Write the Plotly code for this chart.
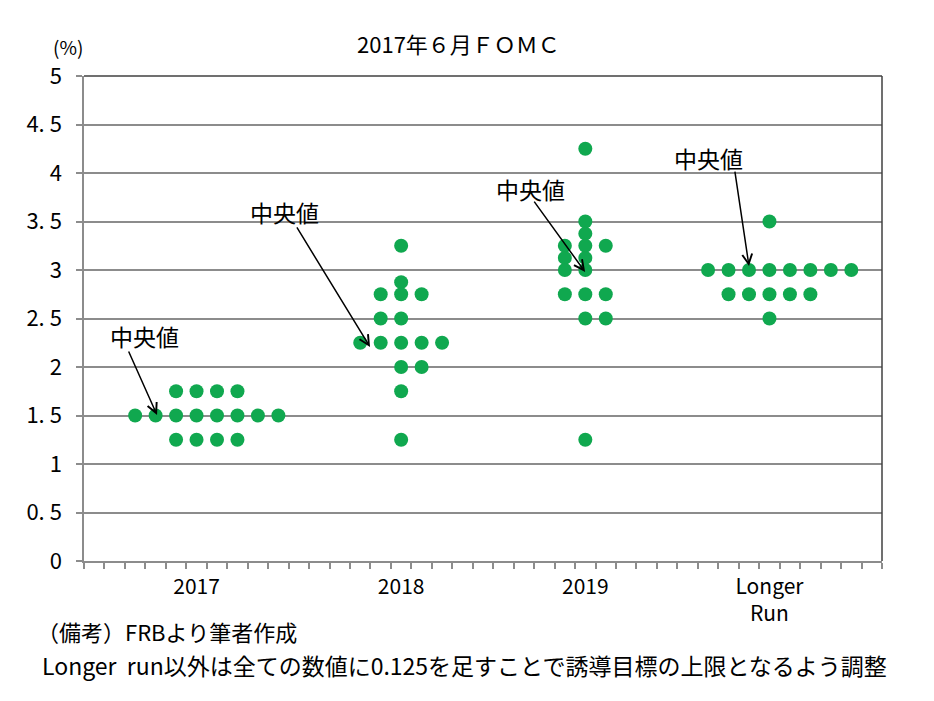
import plotly.graph_objects as go

# dot plot values (upper bound of target range, %), one list per period
groups = ["2017", "2018", "2019", "Longer<br>Run"]
group_pos = [6, 16, 25, 34]

rates_2017 = [1.75, 1.5, 1.25]
counts_2017 = [4, 8, 4]

rates_2018 = [3.25, 2.875, 2.75, 2.5, 2.25, 2.0, 1.75, 1.25]
counts_2018 = [1, 1, 3, 2, 5, 2, 1, 1]

rates_2019 = [4.25, 3.5, 3.375, 3.25, 3.125, 3.0, 2.75, 2.5, 1.25]
counts_2019 = [1, 1, 1, 3, 2, 2, 3, 2, 1]

rates_lr = [3.5, 3.0, 2.75, 2.5]
counts_lr = [1, 8, 5, 1]

# slot where each row of dots starts (category index on the x axis)
start_2017 = [5, 3, 5]
start_2018 = [16, 16, 15, 15, 14, 16, 16, 16]
start_2019 = [25, 25, 25, 24, 24, 24, 24, 25, 25]
start_lr = [34, 31, 32, 34]

y_ticks = [0, 0.5, 1, 1.5, 2, 2.5, 3, 3.5, 4, 4.5, 5]
y_text = ["0", "0. 5", "1", "1. 5", "2", "2. 5", "3", "3. 5", "4", "4. 5", "5"]

FONT = "Noto Sans CJK JP"
GREEN = "#10a84f"
GRID = "#8c8c8c"


def dots(rates, counts, starts):
    xs, ys = [], []
    for r, n, s in zip(rates, counts, starts):
        for i in range(n):
            xs.append(s + i)
            ys.append(r)
    return xs, ys


fig = go.Figure()
for rates, counts, starts in [
    (rates_2017, counts_2017, start_2017),
    (rates_2018, counts_2018, start_2018),
    (rates_2019, counts_2019, start_2019),
    (rates_lr, counts_lr, start_lr),
]:
    xs, ys = dots(rates, counts, starts)
    fig.add_trace(
        go.Scatter(
            x=xs,
            y=ys,
            mode="markers",
            marker=dict(size=14, color=GREEN, line=dict(width=0)),
            showlegend=False,
        )
    )

# median labels: (text x, text y, arrow tail x, tail y, head x, head y)
medians = [
    (3.47, 2.32, 2.65, 2.175, 4.07, 1.505),
    (10.32, 3.60, 10.86, 3.454, 14.48, 2.206),
    (22.3, 3.835, 22.45, 3.72, 24.99, 2.98),
    (31.0, 4.155, 32.3, 4.03, 33.0, 3.04),
]
for tx, ty, ax, ay, hx, hy in medians:
    fig.add_annotation(
        x=tx, y=ty, text="中央値", showarrow=False,
        font=dict(family=FONT, size=23, color="#000"),
    )
    fig.add_annotation(
        x=hx, y=hy, ax=ax, ay=ay, axref="x", ayref="y", text="",
        showarrow=True, arrowhead=5, arrowsize=1.3, arrowwidth=1.5,
        arrowcolor="#000",
    )

fig.add_annotation(
    xref="paper", yref="paper", x=0.4687, y=1.068, xanchor="center",
    yanchor="middle", text="2017年６月ＦＯＭＣ",
    showarrow=False, font=dict(family=FONT, size=22, color="#000"),
)
fig.add_annotation(
    xref="paper", yref="paper", x=-0.02, y=1.06, xanchor="center",
    yanchor="middle", text="(%)",
    showarrow=False, font=dict(family=FONT, size=19, color="#000"),
)
fig.add_annotation(
    xref="paper", yref="paper", x=-0.0614, y=-0.1443, xanchor="left",
    yanchor="middle", text="（備考）FRBより筆者作成",
    showarrow=False, font=dict(family=FONT, size=22, color="#000"),
)
fig.add_annotation(
    xref="paper", yref="paper", x=-0.0556, y=-0.2144, xanchor="left",
    yanchor="middle",
    text="Longer  run以外は全ての数値に0.125を足すことで誘導目標の上限となるよう調整",
    showarrow=False, font=dict(family=FONT, size=23, color="#000"),
)

# darker frame on top and right
fig.add_shape(type="line", xref="paper", yref="paper", x0=0, x1=1, y0=1, y1=1,
              line=dict(color="#404040", width=1.5))
fig.add_shape(type="line", xref="paper", yref="paper", x0=1, x1=1, y0=0, y1=1,
              line=dict(color="#404040", width=1.5))

fig.update_xaxes(
    range=[0.5, 39.5],
    tickvals=group_pos,
    ticktext=groups,
    ticks="",
    ticklabelstandoff=6,
    showgrid=False,
    zeroline=False,
    showline=True,
    linecolor=GRID,
    linewidth=1.5,
    minor=dict(ticks="outside", tickmode="linear", tick0=0.5, dtick=1,
               ticklen=6, tickcolor=GRID, tickwidth=1.5),
    tickfont=dict(family=FONT, size=21, color="#000"),
)
fig.update_yaxes(
    range=[0, 5],
    tickvals=y_ticks,
    ticktext=y_text,
    ticks="outside",
    ticklen=6,
    tickcolor=GRID,
    tickwidth=1.5,
    ticklabelstandoff=10,
    showgrid=True,
    gridcolor=GRID,
    gridwidth=1.5,
    zeroline=False,
    showline=True,
    linecolor=GRID,
    linewidth=1.5,
    tickfont=dict(family=FONT, size=22, color="#000"),
)
# page body adds an 8px offset, so the figure is drawn 8px smaller
fig.update_layout(
    width=926,
    height=693,
    margin=dict(l=76, r=52, t=68, b=140),
    plot_bgcolor="white",
    paper_bgcolor="white",
    font=dict(family=FONT),
)
fig.write_html("out.html")
